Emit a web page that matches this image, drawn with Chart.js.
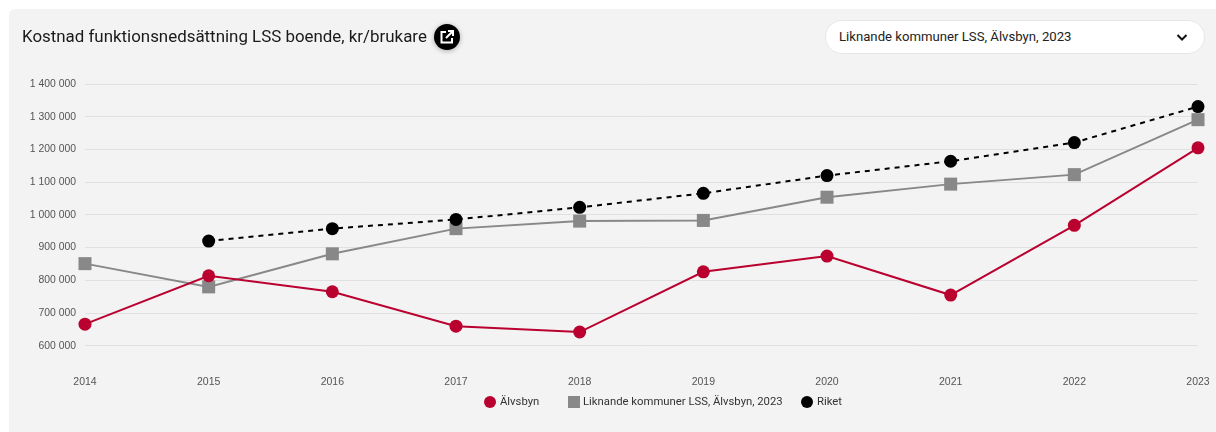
<!DOCTYPE html>
<html lang="sv">
<head>
<meta charset="utf-8">
<title>Kostnad funktionsnedsättning LSS boende</title>
<script src="https://cdn.jsdelivr.net/npm/chart.js@4"></script>
<style>
    html, body { margin: 0; padding: 0; background: #fff; overflow: hidden; }
    body { width: 1216px; height: 432px; position: relative; font-family: Roboto, sans-serif; }
    #panel { position: absolute; left: 9px; top: 9px; width: 1207px; height: 423px; background: #f3f3f3; border-radius: 6px 0 0 0; }
    #chart-box { position: absolute; left: 0; top: 0; width: 1216px; height: 432px; }
    #title { position: absolute; left: 22px; top: 25px; font-size: 16.9px; line-height: 22px; color: #1a1a1a; white-space: nowrap; }
    #open-btn { position: absolute; left: 434px; top: 24px; width: 26px; height: 26px; border-radius: 50%; background: #000; box-shadow: 0 1px 5px rgba(0,0,0,.3); }
    #open-btn svg { position: absolute; left: 5px; top: 5px; }
    #select { position: absolute; left: 825px; top: 20px; width: 378px; height: 32px; background: #fff; border: 1px solid #e6e6e6; border-radius: 17px; }
    #select span { position: absolute; left: 13px; top: 8px; font-size: 13.17px; line-height: 16px; color: #222; white-space: nowrap; }
    #select svg { position: absolute; left: 349px; top: 9px; }
    .legend-marker { position: absolute; top: 396px; width: 12px; height: 12px; }
    .legend-text { position: absolute; top: 395px; font-size: 11.3px; line-height: 14px; color: #333; white-space: nowrap; }
</style>
</head>
<body>
<div id="panel"></div>
<div id="chart-box"><canvas id="cost-chart" width="1216" height="432"></canvas></div>
<div id="title">Kostnad funktionsnedsättning LSS boende, kr/brukare</div>
<div id="open-btn">
    <svg width="16" height="16" viewBox="0 0 16 16" fill="none" stroke="#fff" stroke-width="2">
        <path d="M7 3H2.500v10.500h10.500V9"/>
        <path d="M9 2h5v5M14 2L7 9"/>
    </svg>
</div>
<div id="select">
    <span>Liknande kommuner LSS, Älvsbyn, 2023</span>
    <svg width="14" height="14" viewBox="0 0 14 14" fill="none" stroke="#111" stroke-width="2"><path d="M2.500 5l4.500 4.500L11.500 5"/></svg>
</div>
<div id="legend"></div>

<script>
// Chart data
const years = ['2014', '2015', '2016', '2017', '2018', '2019', '2020', '2021', '2022', '2023'];
const alvsbyn = [666000, 814000, 765000, 660000, 642000, 826000, 874000, 755000, 968000, 1205000];
const liknande = [851000, 780000, 881000, 958000, 981000, 983000, 1054000, 1094000, 1123000, 1291000];
const riket = [null, 920000, 958000, 986000, 1023000, 1066000, 1120000, 1164000, 1221000, 1331000];
const yTicks = [600000, 700000, 800000, 900000, 1000000, 1100000, 1200000, 1300000, 1400000];

const RED = '#b9002f';
const GRAY = '#888888';
const BLACK = '#000000';

function formatKr(value) {
    return String(value).replace(/\B(?=(\d{3})+(?!\d))/g, ' ');
}

const ctx = document.getElementById('cost-chart').getContext('2d');

const costChart = new Chart(ctx, {
    type: 'line',
    data: {
        labels: years,
        datasets: [{
            label: 'Älvsbyn',
            data: alvsbyn,
            borderColor: RED,
            backgroundColor: RED,
            borderWidth: 2,
            pointStyle: 'circle',
            pointRadius: 6.5,
            pointBorderWidth: 0,
            tension: 0,
            order: 0,
            clip: false
        }, {
            label: 'Liknande kommuner LSS, Älvsbyn, 2023',
            data: liknande,
            borderColor: GRAY,
            backgroundColor: GRAY,
            borderWidth: 2,
            pointStyle: 'rect',
            pointRadius: 9.2,
            pointBorderWidth: 0,
            tension: 0,
            order: 1,
            clip: false
        }, {
            label: 'Riket',
            data: riket,
            borderColor: BLACK,
            backgroundColor: BLACK,
            borderWidth: 2,
            borderDash: [5, 5],
            pointStyle: 'circle',
            pointRadius: 6.5,
            pointBorderWidth: 0,
            tension: 0,
            order: 0,
            clip: false
        }]
    },
    options: {
        responsive: false,
        animation: false,
        layout: {
            padding: { left: 0, right: 18, top: 84, bottom: 42 }
        },
        plugins: {
            title: { display: false },
            tooltip: { enabled: false },
            legend: { display: false }
        },
        scales: {
            x: {
                offset: false,
                grid: { display: false },
                border: { display: false },
                ticks: {
                    padding: 2,
                    maxRotation: 0,
                    autoSkip: false,
                    color: '#555555',
                    font: { family: 'Liberation Sans', size: 10.5 }
                }
            },
            y: {
                min: 540000,
                max: 1400000,
                afterBuildTicks: function(scale) {
                    scale.ticks = yTicks.map(function(v) { return { value: v }; });
                },
                afterFit: function(scale) {
                    scale.width = 85;
                },
                grid: { color: '#e0e0e0', lineWidth: 1, drawTicks: false },
                border: { display: false },
                ticks: {
                    padding: 9,
                    color: '#555555',
                    font: { family: 'Liberation Sans', size: 10.4 },
                    callback: function(value) {
                        return formatKr(value);
                    }
                }
            }
        }
    }
});

// HTML legend, the items in the original are not evenly spaced
const markerLeft = [484, 568, 801];
const textLeft = [500, 583, 817];
const legendBox = document.getElementById('legend');

costChart.data.datasets.forEach(function(ds, i) {
    const marker = document.createElement('div');
    marker.className = 'legend-marker';
    marker.style.left = markerLeft[i] + 'px';
    marker.style.background = ds.backgroundColor;
    marker.style.borderRadius = ds.pointStyle === 'circle' ? '50%' : '0';
    legendBox.appendChild(marker);

    const text = document.createElement('div');
    text.className = 'legend-text';
    text.style.left = textLeft[i] + 'px';
    text.textContent = ds.label;
    legendBox.appendChild(text);
});
</script>
</body>
</html>
